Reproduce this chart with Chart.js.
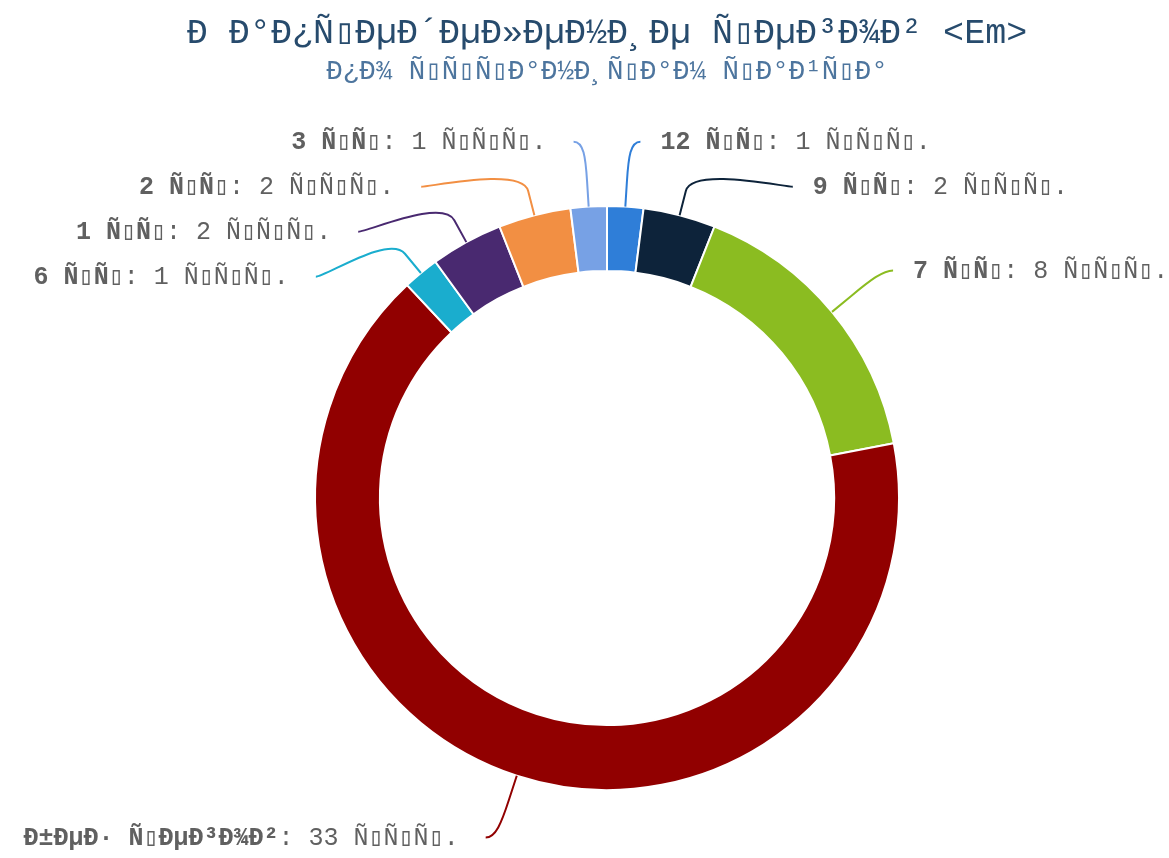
<!DOCTYPE html>
<html>
<head>
<meta charset="utf-8">
<script src="https://cdn.jsdelivr.net/npm/chart.js@4.4.1/dist/chart.umd.min.js"></script>
<style>
  html, body { margin: 0; padding: 0; background: #ffffff; }
  #c { display: block; }
</style>
</head>
<body>
<canvas id="c" width="1169" height="858"></canvas>
<script>
// ---- data (text shown exactly as in the reference: mis-decoded UTF-8, boxes = undecodable bytes) ----
const BOX = '\u25AF';
const titleText = 'Ð\u00a0Ð°Ð¿Ñ' + BOX + 'ÐµÐ´ÐµÐ»ÐµÐ½Ð¸Ðµ Ñ' + BOX + 'ÐµÐ³Ð¾Ð² <Em>';
const subtitleText = 'Ð¿Ð¾ Ñ' + BOX + 'Ñ' + BOX + 'Ñ' + BOX + 'Ð°Ð½Ð¸Ñ' + BOX + 'Ð°Ð¼ Ñ' + BOX + 'Ð°Ð¹Ñ' + BOX + 'Ð°';
const unitShort = 'Ñ' + BOX + 'Ñ' + BOX;
const categories = [
  '12 ' + unitShort,
  '9 ' + unitShort,
  '7 ' + unitShort,
  'Ð±ÐµÐ· Ñ' + BOX + 'ÐµÐ³Ð¾Ð²',
  '6 ' + unitShort,
  '1 ' + unitShort,
  '2 ' + unitShort,
  '3 ' + unitShort
];
const pageCounts = [1, 2, 8, 33, 1, 2, 2, 1];
const valueSuffix = 'Ñ' + BOX + 'Ñ' + BOX + 'Ñ' + BOX + '.';
const sliceColors = ['#2f7ed8', '#0d233a', '#8bbc21', '#910000', '#1aadce', '#492970', '#f28f43', '#77a1e5'];

// ---- style / layout ----
const FONT = '"Liberation Mono", "DejaVu Sans Mono", monospace';
const LABEL_FONT_SIZE = 25;
const LABEL_DISTANCE = 65;
const CONNECTOR_OFFSET = 25;
const LABEL_PAD = 11;
const TEXT_GAP_RIGHT = 20;
const TEXT_GAP_LEFT = 27;
const SLOT = 45;
const LABEL_TOP = 140;
const LABEL_BOTTOM = 842;

const titlePlugin = {
  id: 'titles',
  afterDraw(chart) {
    const ctx = chart.ctx;
    const meta = chart.getDatasetMeta(0);
    const cx = meta.data[0].x;
    ctx.save();
    ctx.textAlign = 'center';
    ctx.textBaseline = 'middle';
    ctx.fillStyle = '#274b6d';
    ctx.font = '35px ' + FONT;
    ctx.fillText(titleText, cx, 34);
    ctx.fillStyle = '#4d759e';
    ctx.font = '27.5px ' + FONT;
    ctx.fillText(subtitleText, cx, 72);
    ctx.restore();
  }
};

const labelPlugin = {
  id: 'pieLabels',
  afterDatasetsDraw(chart) {
    const ctx = chart.ctx;
    const meta = chart.getDatasetMeta(0);
    const ds = chart.data.datasets[0];
    const items = meta.data.map((arc, i) => {
      const p = arc.getProps(['x', 'y', 'startAngle', 'endAngle', 'outerRadius'], true);
      const mid = (p.startAngle + p.endAngle) / 2;
      const cos = Math.cos(mid), sin = Math.sin(mid);
      const R = p.outerRadius + LABEL_DISTANCE;
      return { i, cx: p.x, cy: p.y, r: p.outerRadius, cos, sin, R,
               left: cos < 0, naturalY: p.y + sin * R };
    });
    [true, false].forEach(side => {
      const group = items.filter(it => it.left === side).sort((a, b) => a.naturalY - b.naturalY);
      let prev = -Infinity;
      group.forEach(it => {
        let y = Math.max(it.naturalY, prev + SLOT, LABEL_TOP);
        y = Math.min(y, LABEL_BOTTOM);
        it.y = y;
        prev = y;
      });
    });
    ctx.save();
    items.forEach(it => {
      const dy = it.y - it.cy;
      let dx;
      if (Math.abs(it.y - it.naturalY) < 0.5) dx = Math.abs(it.cos) * it.R;
      else dx = Math.sqrt(Math.max(it.R * it.R - dy * dy, 0));
      const sgn = it.left ? -1 : 1;
      const endX = it.cx + sgn * (dx + LABEL_PAD);
      const T = { x: it.cx + it.cos * it.r, y: it.cy + it.sin * it.r };
      const B = { x: T.x + it.cos * CONNECTOR_OFFSET, y: T.y + it.sin * CONNECTOR_OFFSET };
      ctx.beginPath();
      ctx.moveTo(endX, it.y);
      ctx.bezierCurveTo(endX - sgn * 10, it.y, 2 * B.x - T.x, 2 * B.y - T.y, B.x, B.y);
      ctx.lineTo(T.x, T.y);
      ctx.strokeStyle = ds.backgroundColor[it.i];
      ctx.lineWidth = 2;
      ctx.stroke();

      const name = chart.data.labels[it.i];
      const rest = ': ' + ds.data[it.i] + ' ' + valueSuffix;
      const boldFont = 'bold ' + LABEL_FONT_SIZE + 'px ' + FONT;
      const normFont = LABEL_FONT_SIZE + 'px ' + FONT;
      ctx.textBaseline = 'middle';
      ctx.textAlign = 'left';
      ctx.font = boldFont;
      const w1 = ctx.measureText(name).width;
      ctx.font = normFont;
      const w2 = ctx.measureText(rest).width;
      const tx = it.left ? endX - TEXT_GAP_LEFT - (w1 + w2) : endX + TEXT_GAP_RIGHT;
      const ty = it.y + 1;
      ctx.fillStyle = '#606060';
      ctx.font = boldFont;
      ctx.fillText(name, tx, ty);
      ctx.font = normFont;
      ctx.fillText(rest, tx + w1, ty);
    });
    ctx.restore();
  }
};

new Chart(document.getElementById('c'), {
  type: 'doughnut',
  data: {
    labels: categories,
    datasets: [{
      data: pageCounts,
      backgroundColor: sliceColors,
      borderColor: '#ffffff',
      borderWidth: 2,
      radius: 292,
      cutout: 231
    }]
  },
  options: {
    responsive: false,
    devicePixelRatio: 1,
    animation: false,
    layout: { padding: { left: 300, right: 255, top: 200, bottom: 62 } },
    plugins: {
      legend: { display: false },
      title: { display: false },
      tooltip: { enabled: false }
    }
  },
  plugins: [labelPlugin, titlePlugin]
});
</script>
</body>
</html>
